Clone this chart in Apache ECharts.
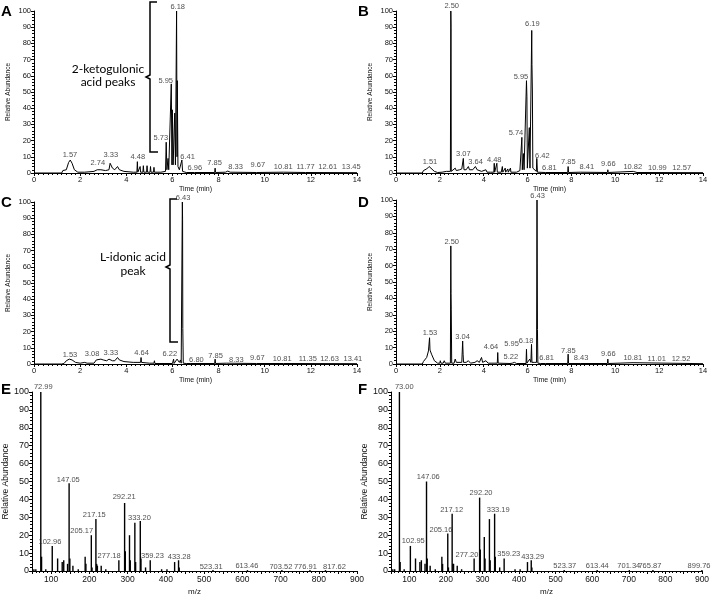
<!DOCTYPE html>
<html><head><meta charset="utf-8">
<script src="https://cdn.jsdelivr.net/npm/echarts@6/dist/echarts.min.js"></script>
<style>html,body{margin:0;padding:0;background:#fff}#c{width:713px;height:597px}</style>
</head><body><div id="c"></div>
<script>
// ---------- DATA ----------
// Chromatogram traces: [time (min), relative abundance]
const traceA = [[0,0],[1.2,0],[1.25,1.5],[1.3,0.5],[1.4,2],[1.5,6.5],[1.57,8],[1.65,6],[1.75,2],[1.9,0.5],[2.2,0.5],[2.6,1],[2.74,2],[2.9,2],[3.1,1.5],[3.25,2],[3.3,6],[3.33,7],[3.4,3],[3.5,2],[3.62,4],[3.7,2],[3.9,1],[4.3,0.5],[4.46,0.5],[4.48,7],[4.5,0.5],[4.58,0.5],[4.6,4],[4.62,0.5],[4.72,0.5],[4.74,4.5],[4.76,0.5],[4.88,0.5],[4.9,4.5],[4.92,0.5],[5.03,0.5],[5.05,4],[5.07,0.5],[5.18,0.5],[5.2,3.5],[5.22,0.5],[5.5,0.5],[5.7,1],[5.73,19],[5.76,2],[5.79,2],[5.81,9],[5.84,2],[5.9,2],[5.95,55],[5.98,5],[6.0,39],[6.03,5],[6.08,5],[6.1,37],[6.13,5],[6.16,5],[6.18,100],[6.2,10],[6.21,57],[6.24,4],[6.3,2],[6.38,1],[6.41,8],[6.44,1],[6.6,0.3],[6.96,0.3],[7.83,0.3],[7.85,3],[7.87,0.3],[8.3,0.5],[8.4,1.2],[8.5,0.5],[9.65,0.3],[9.67,1.5],[9.69,0.3],[10.81,0.5],[11.77,0.3],[14,0.2]];
const traceB = [[0,0],[1.2,0],[1.25,1.5],[1.3,0.5],[1.4,2.5],[1.51,4],[1.6,3],[1.75,1],[1.9,0.3],[2.1,0.5],[2.3,1],[2.48,1],[2.5,100],[2.51,90],[2.52,1],[2.6,1],[2.7,3],[2.75,1.5],[2.9,2],[3.0,2.5],[3.07,9],[3.1,2],[3.2,2],[3.3,4],[3.35,2],[3.5,2],[3.62,4],[3.7,2],[3.9,1],[4.1,2],[4.15,0.5],[4.3,0.5],[4.46,0.5],[4.48,6],[4.5,0.5],[4.58,0.5],[4.6,6],[4.62,0.5],[4.8,0.5],[4.85,4],[4.87,0.5],[4.95,0.5],[4.98,3],[5.0,0.5],[5.08,0.5],[5.1,2.5],[5.12,0.5],[5.2,0.5],[5.22,3],[5.24,0.5],[5.5,0.5],[5.65,1.5],[5.72,1],[5.74,22],[5.76,2],[5.79,2],[5.81,12],[5.84,2],[5.9,2],[5.95,57],[5.97,47],[5.99,3],[6.05,3],[6.08,28],[6.11,3],[6.15,3],[6.19,88],[6.2,67],[6.22,50],[6.24,3],[6.3,2],[6.4,1],[6.42,9],[6.45,0.5],[6.81,0.3],[7.83,0.3],[7.85,4],[7.87,0.3],[8.41,0.5],[9.64,0.3],[9.66,2],[9.68,0.3],[10.82,1],[10.99,0.3],[14,0.2]];
const traceC = [[0,0],[1.2,0],[1.25,1],[1.3,0.3],[1.4,2],[1.53,3],[1.65,2.5],[1.8,1],[2.0,0.5],[2.2,1],[2.3,0.5],[2.6,0.5],[2.7,2.5],[2.9,3],[3.0,2.5],[3.08,3.5],[3.15,2],[3.25,3],[3.33,4],[3.4,2],[3.5,2],[3.62,4],[3.7,2.5],[3.9,1.5],[4.3,1],[4.62,1],[4.64,4],[4.66,1],[5.0,0.5],[5.2,0.5],[5.22,2],[5.24,0.3],[6.0,0.3],[6.05,3],[6.07,0.3],[6.15,0.3],[6.2,3],[6.22,2],[6.25,3],[6.3,1],[6.35,2.5],[6.38,0.5],[6.41,0.5],[6.43,100],[6.44,89],[6.45,22],[6.47,0.5],[6.6,0.3],[6.8,0.3],[7.83,0.3],[7.85,3],[7.87,0.3],[8.33,0.5],[9.65,0.3],[9.67,1.5],[9.69,0.3],[10.81,0.3],[14,0.2]];
const traceD = [[0,0],[1.2,0],[1.25,1.5],[1.3,0.5],[1.4,4],[1.48,8],[1.53,16],[1.55,8.5],[1.62,6],[1.75,2],[1.9,0.5],[2.0,0.5],[2.02,2],[2.05,0.5],[2.15,0.5],[2.2,2],[2.25,0.5],[2.48,0.5],[2.5,72],[2.51,43],[2.52,33],[2.54,0.5],[2.65,0.5],[2.7,3],[2.75,1],[3.0,1],[3.04,14],[3.06,6],[3.08,1],[3.2,1],[3.3,2],[3.4,0.5],[3.6,1],[3.7,2],[3.8,1],[3.9,4],[3.95,1],[4.1,2],[4.2,0.5],[4.62,0.5],[4.64,7],[4.66,0.5],[5.2,0.3],[5.22,1],[5.3,0.5],[5.4,1],[5.5,0.3],[5.93,0.3],[5.95,9],[5.97,0.5],[6.05,1],[6.1,3],[6.15,1],[6.18,12],[6.2,1],[6.3,1],[6.35,2],[6.41,1],[6.43,100],[6.44,61],[6.45,21],[6.47,0.5],[6.6,0.3],[6.81,0.3],[7.83,0.3],[7.85,6],[7.87,0.3],[8.43,0.3],[9.64,0.3],[9.66,3],[9.68,0.3],[10.81,0.8],[14,0.2]];

// Peak labels: [x, y, text]
const labelsA = [[1.56,11,"1.57"],[2.77,6.2,"2.74"],[3.33,11,"3.33"],[4.5,10,"4.48"],[5.5,21.6,"5.73"],[5.71,57,"5.95"],[6.23,102.5,"6.18"],[6.66,10,"6.41"],[6.97,3,"6.96"],[7.83,6.2,"7.85"],[8.74,3.7,"8.33"],[9.7,4.9,"9.67"],[10.8,3.7,"10.81"],[11.77,3.7,"11.77"],[12.73,3.7,"12.61"],[13.75,3.7,"13.45"]];
const labelsB = [[1.55,6.6,"1.51"],[2.54,103,"2.50"],[3.07,11.5,"3.07"],[3.63,7,"3.64"],[4.48,8,"4.48"],[5.47,24.5,"5.74"],[5.7,59.5,"5.95"],[6.22,91.8,"6.19"],[6.67,10.7,"6.42"],[6.99,2.9,"6.81"],[7.86,7,"7.85"],[8.7,3.9,"8.41"],[9.68,5.4,"9.66"],[10.8,3.9,"10.82"],[11.92,2.9,"10.99"],[13.03,2.9,"12.57"]];
const labelsC = [[1.56,5.6,"1.53"],[2.52,6,"3.08"],[3.33,7,"3.33"],[4.66,6.6,"4.64"],[5.89,6.2,"6.22"],[6.46,102.5,"6.43"],[7.04,2.5,"6.80"],[7.87,5.1,"7.85"],[8.77,2.5,"8.33"],[9.68,3.9,"9.67"],[10.76,2.9,"10.81"],[11.87,2.9,"11.35"],[12.81,2.9,"12.63"],[13.82,2.9,"13.41"]];
const labelsD = [[1.55,19,"1.53"],[2.54,74.4,"2.50"],[3.04,16.7,"3.04"],[4.33,10.2,"4.64"],[5.27,12.2,"5.95"],[5.93,14.2,"6.18"],[5.24,4.1,"5.22"],[6.46,102.6,"6.43"],[6.87,3.5,"6.81"],[7.86,8.1,"7.85"],[8.44,3.5,"8.43"],[9.68,5.9,"9.66"],[10.8,3.5,"10.81"],[11.89,2.9,"11.01"],[13.0,2.9,"12.52"]];

// Mass spectra: m/z and relative abundance
const mzE = [55,60,72.99,75,86,102.96,117,129,133,143,147.05,149,157,171,189,191,205.17,207,217.15,219,221,231,243,277.18,292.21,294,305,307,319,321,333.20,335,347,359.23,389,403,423,433.28,435,523.31,613.46,703.52,776.91,817.62];
const abE = [1,1,100,8,1,14,7,5,6,4,49,7,3,1,8,4,20,2,29,4,3,3,1,6,38,11,20,6,27,5,28,7,2,6,1,1,5,6,2,0.5,0.5,0.5,0.5,0.5];
const mzF = [55,60,73.00,75,86,102.95,117,129,133,143,147.06,149,157,171,189,191,205.16,207,217.12,219,221,231,243,277.20,292.20,294,305,307,319,321,333.19,335,347,359.23,389,403,423,433.29,435,523.37,613.44,701.34,765.87,899.76];
const abF = [1,1,100,5,1,14,7,5,6,4,50,7,3,1,8,4,21,2,32,4,4,3,1,7,41,12,19,7,29,6,32,8,2,7,1,1,5,6,2,0.5,0.5,0.5,0.5,0.5];
const labelsE = [[79.6,102.6,"72.99"],[97,16.4,"102.96"],[145,50.8,"147.05"],[180,22.5,"205.17"],[213,31.1,"217.15"],[251.6,8.5,"277.18"],[291,41.3,"292.21"],[331,29.7,"333.20"],[365,8.5,"359.23"],[435,7.7,"433.28"],[518.6,2.3,"523.31"],[612,3,"613.46"],[701,2.3,"703.52"],[765,2.3,"776.91"],[841,2.3,"817.62"]];
const labelsF = [[86.3,102.6,"73.00"],[111,16.8,"102.95"],[152,52.3,"147.06"],[186.6,22.8,"205.16"],[215.8,34.3,"217.12"],[257.6,9,"277.20"],[296,43.5,"292.20"],[343,33.9,"333.19"],[372,9.6,"359.23"],[437,8.1,"433.29"],[525,3,"523.37"],[613.7,3,"613.44"],[700,3,"701.34"],[757.6,3,"765.87"],[892,3,"899.76"]];

// ---------- CHART ----------
const FONT = 'Liberation Sans';
const chart = echarts.init(document.getElementById('c'));
const grids = [
  {left:34, top:11, width:323, height:162},
  {left:396, top:11, width:307, height:162},
  {left:34, top:202, width:323, height:162},
  {left:396, top:200, width:307, height:164},
  {left:32, top:392, width:325, height:181},
  {left:391, top:392, width:311, height:181}
];
const axisLine = {lineStyle:{color:'#000', width:1}};
function xChrom(i){
  return {gridIndex:i, type:'value', min:0, max:14, interval:2, name:'Time (min)', nameLocation:'middle', nameGap:13,
    nameTextStyle:{fontFamily:FONT, fontSize:7, color:'#111'},
    axisLine, axisTick:{length:3, lineStyle:{color:'#000'}}, minorTick:{show:true, splitNumber:10, length:2, lineStyle:{color:'#000'}},
    splitLine:{show:false}, axisLabel:{fontFamily:FONT, fontSize:7.5, color:'#111', margin:3}};
}
function yAb(i, fs, nameFs, gap){
  return {gridIndex:i, type:'value', min:0, max:100, interval:10, name:'Relative Abundance', nameLocation:'middle', nameGap:gap,
    nameTextStyle:{fontFamily:FONT, fontSize:nameFs, color:'#111'},
    axisLine:{show:true, lineStyle:{color:'#000'}}, axisTick:{show:true, length:3, lineStyle:{color:'#000'}},
    minorTick:{show:true, splitNumber:5, length:2, lineStyle:{color:'#000'}},
    splitLine:{show:false}, axisLabel:{fontFamily:FONT, fontSize:fs, color:'#111', margin:3}};
}
function xMz(i){
  return {gridIndex:i, type:'value', min:50, max:900, interval:50, name:'m/z', nameLocation:'middle', nameGap:17,
    nameTextStyle:{fontFamily:FONT, fontSize:8, color:'#111'},
    axisLine, axisTick:{length:3, lineStyle:{color:'#000'}}, minorTick:{show:true, splitNumber:5, length:2, lineStyle:{color:'#000'}},
    splitLine:{show:false},
    axisLabel:{fontFamily:FONT, fontSize:8.5, color:'#111', margin:4, interval:0, formatter:v => (v % 100 === 0 ? String(v) : '')}};
}
function traceSeries(i, data){
  return {type:'line', xAxisIndex:i, yAxisIndex:i, data, showSymbol:false, symbol:'none', silent:true,
    lineStyle:{color:'#000', width:1}, animation:false};
}
function labelSeries(i, data, fs){
  return {type:'scatter', xAxisIndex:i, yAxisIndex:i, data, symbolSize:1, clip:false, silent:true, animation:false,
    itemStyle:{color:'rgba(0,0,0,0)'}, z:5,
    label:{show:true, position:'inside', formatter:p => p.data[2], fontFamily:FONT, fontSize:fs, color:'#222'}};
}
function barSeries(i, mz, ab){
  return {type:'bar', xAxisIndex:i, yAxisIndex:i, data: mz.map((m,k)=>[m, ab[k]]), barWidth:1.4, silent:true, animation:false,
    itemStyle:{color:'#000'}};
}
const panelLetter = (t, x, y) => ({type:'text', left:x, top:y, style:{text:t, font:'bold 15px "Liberation Sans"', fill:'#000'}});

chart.setOption({
  animation:false,
  grid: grids,
  xAxis:[xChrom(0), xChrom(1), xChrom(2), xChrom(3), xMz(4), xMz(5)],
  yAxis:[yAb(0,7.5,6.5,22), yAb(1,7.5,6.5,22), yAb(2,7.5,6.5,22), yAb(3,7.5,6.5,22), yAb(4,9,8.5,21), yAb(5,9,8.5,21)],
  series:[
    traceSeries(0, traceA), traceSeries(1, traceB), traceSeries(2, traceC), traceSeries(3, traceD),
    barSeries(4, mzE, abE), barSeries(5, mzF, abF),
    labelSeries(0, labelsA, 7.5), labelSeries(1, labelsB, 7.5), labelSeries(2, labelsC, 7.5), labelSeries(3, labelsD, 7.5),
    labelSeries(4, labelsE, 7.5), labelSeries(5, labelsF, 7.5)
  ],
  graphic:[
    panelLetter('A', 1, 4), panelLetter('B', 358, 4), panelLetter('C', 1, 195), panelLetter('D', 358, 195),
    panelLetter('E', 1, 382), panelLetter('F', 358, 382),
    {type:'polyline', shape:{points:[[157,2],[150,2],[150,75],[146,77],[150,79],[150,152],[158,152]]}, style:{stroke:'#000', lineWidth:1.5, fill:null}},
    {type:'polyline', shape:{points:[[177,199],[170,199],[170,265],[166,267],[170,269],[170,342],[178,342]]}, style:{stroke:'#000', lineWidth:1.5, fill:null}},
    {type:'text', x:108, y:76, style:{text:'2-ketogulonic\nacid peaks', font:'12px Lato', fill:'#000', align:'center', verticalAlign:'middle', lineHeight:13}},
    {type:'text', x:133, y:264, style:{text:'L-idonic acid\npeak', font:'12px Lato', fill:'#000', align:'center', verticalAlign:'middle', lineHeight:14}}
  ]
});
</script></body></html>
